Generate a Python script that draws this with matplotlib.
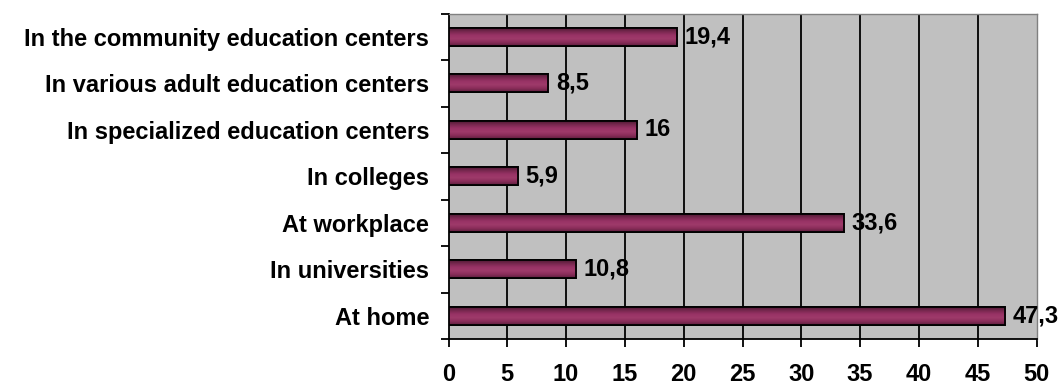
import matplotlib
matplotlib.use("Agg")
import matplotlib.pyplot as plt
import numpy as np
from matplotlib.colors import LinearSegmentedColormap

categories = ["At home", "In universities", "At workplace", "In colleges",
              "In specialized education centers", "In various adult education centers",
              "In the community education centers"]
values = [47.3, 10.8, 33.6, 5.9, 16, 8.5, 19.4]
value_labels = ["47,3", "10,8", "33,6", "5,9", "16", "8,5", "19,4"]
xticks = [0, 5, 10, 15, 20, 25, 30, 35, 40, 45, 50]

plt.rcParams['font.family'] = ['Liberation Sans', 'DejaVu Sans']
plt.rcParams['font.weight'] = 'bold'
FS = 17.0

fig = plt.figure(figsize=(10.61, 3.85), dpi=100)
L, R, T, B = 448.5, 1036.5, 13.5, 339
ax = fig.add_axes([L/1061, 1-B/385, (R-L)/1061, (B-T)/385])
ax.set_facecolor('#C0C0C0')

y = np.arange(len(categories))
h = 0.38
bars = ax.barh(y, values, height=h, color='#993366', edgecolor='black', linewidth=1.3, zorder=3)

cmap = LinearSegmentedColormap.from_list('cyl', ['#5e1f3e', '#8a2d5a', '#9e3a6a', '#993366', '#7a2850', '#4f1a34'])
grad = np.linspace(0, 1, 64).reshape(-1, 1)
for b in bars:
    x0, y0 = b.get_x(), b.get_y()
    w, hh = b.get_width(), b.get_height()
    im = ax.imshow(grad, aspect='auto', cmap=cmap, extent=[x0, x0 + w, y0 + hh, y0],
                   zorder=3.5, interpolation='bilinear')
    im.set_clip_path(b)
for b in bars:
    ax.add_patch(plt.Rectangle((b.get_x(), b.get_y()), b.get_width(), b.get_height(),
                               fill=False, edgecolor='black', linewidth=1.3, zorder=4))

for v, lab, yy in zip(values, value_labels, y):
    ax.annotate(lab, (v, yy), xytext=(5.5, 0), textcoords='offset points',
                va='center', ha='left', fontsize=FS, fontweight='bold', zorder=5,
                annotation_clip=False)

ax.set_xlim(0, 50)
ax.set_ylim(-0.5, len(categories) - 0.5)
ax.set_xticks(xticks)
ax.set_xticklabels([str(t) for t in xticks], fontsize=FS, fontweight='bold')
ax.set_yticks(y)
ax.set_yticklabels(categories, fontsize=FS, fontweight='bold')
ax.set_yticks(np.arange(-0.5, len(categories), 1), minor=True)
ax.tick_params(axis='y', which='major', length=0, pad=14)
ax.tick_params(axis='y', which='minor', length=6, width=1.3, direction='out', color='black')
ax.tick_params(axis='x', which='major', length=6, width=1.3, direction='out', color='black', pad=11)

for t in xticks[1:-1]:
    ax.axvline(t, color='black', linewidth=1.3, zorder=1)

ax.spines['left'].set_color('black')
ax.spines['left'].set_linewidth(1.3)
ax.spines['bottom'].set_color('black')
ax.spines['bottom'].set_linewidth(1.3)
ax.spines['top'].set_color('#808080')
ax.spines['right'].set_color('#808080')
ax.spines['top'].set_linewidth(1.0)
ax.spines['right'].set_linewidth(1.0)

fig.savefig('out.png', dpi=100, facecolor='white')
